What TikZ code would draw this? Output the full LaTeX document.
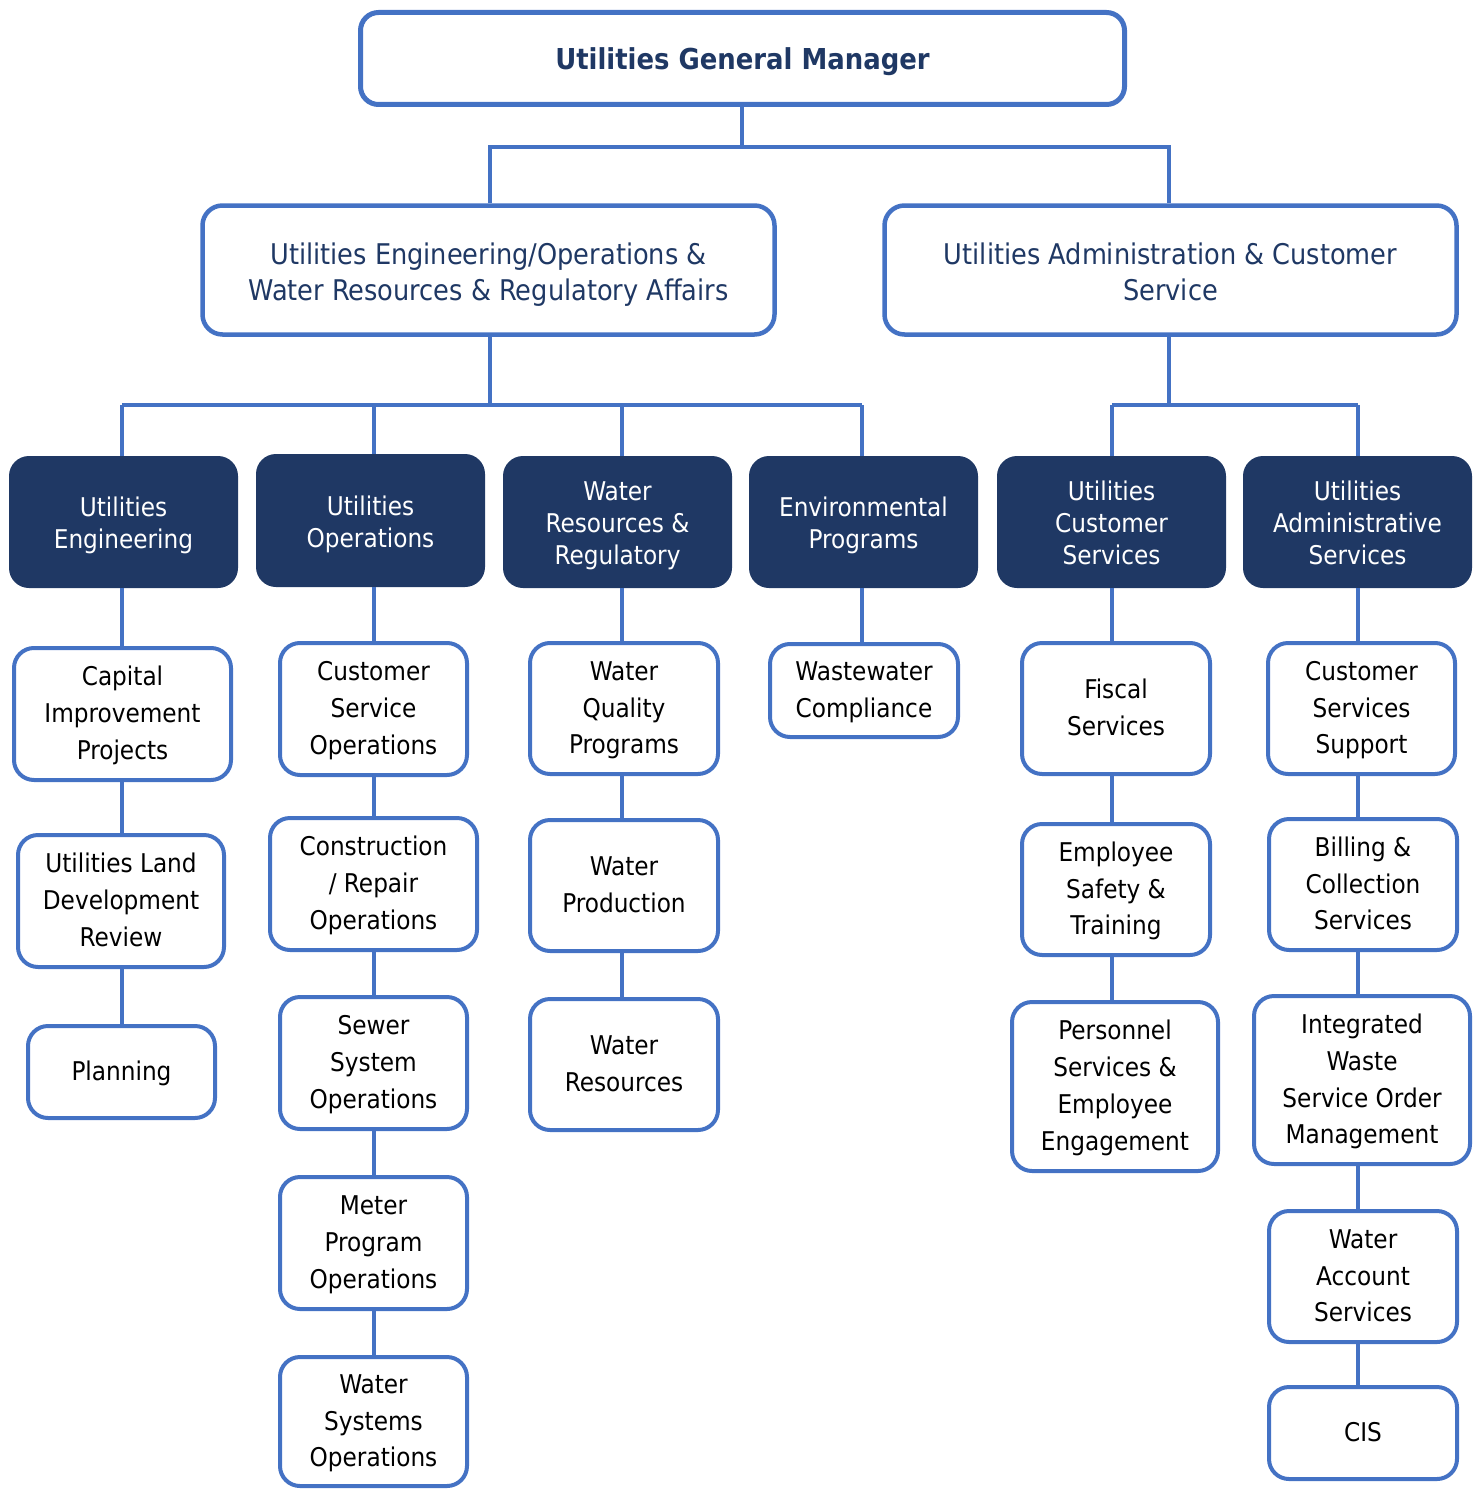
\documentclass[tikz,border=0pt]{standalone}
\usepackage{fontspec}
\setmainfont{DejaVuSansCondensed.ttf}[BoldFont=DejaVuSansCondensed-Bold.ttf]
\definecolor{edgeblue}{HTML}{4472C4}
\definecolor{navy}{HTML}{1F3864}
% \up and \dn: struts on the first and last lines, so every label block
% sits at the same height in its box whatever letters it contains
\newcommand{\up}{}
\newcommand{\dn}{}
\begin{document}
\begin{tikzpicture}[x=1pt,y=-1pt,
  txt/.style={align=center, inner sep=0pt},
  topbox/.style={txt, draw=edgeblue, line width=5pt, rounded corners=18pt, text=navy,
    font={\fontsize{28.8}{36.5}\selectfont\bfseries
          \renewcommand{\up}{\rule{0pt}{29.5pt}}\renewcommand{\dn}{\rule[-6.9pt]{0pt}{0pt}}}},
  midbox/.style={txt, draw=edgeblue, line width=4.5pt, rounded corners=20pt, text=navy,
    font={\fontsize{28.5}{36}\selectfont
          \renewcommand{\up}{\rule{0pt}{31.5pt}}\renewcommand{\dn}{\rule[-6.8pt]{0pt}{0pt}}}},
  darkbox/.style={txt, fill=navy, rounded corners=20pt, text=white,
    font={\fontsize{25.8}{32}\selectfont
          \renewcommand{\up}{\rule{0pt}{27.5pt}}\renewcommand{\dn}{\rule[-6.2pt]{0pt}{0pt}}}},
  wbox/.style={txt, draw=edgeblue, line width=4pt, rounded corners=20pt, text=black,
    font={\fontsize{25.8}{36.8}\selectfont
          \renewcommand{\up}{\rule{0pt}{23.5pt}}\renewcommand{\dn}{\rule[-6.2pt]{0pt}{0pt}}}},
  conn/.style={draw=edgeblue, line width=3.5pt}]
\useasboundingbox (0,0) rectangle (1481,1490);

% head
\node[topbox, minimum width=764, minimum height=92] (gm) at (742.5,58.5) {\up Utilities General Manager\dn};

% divisions
\node[midbox, minimum width=572, minimum height=129] (eng) at (488.5,270) {\up Utilities Engineering/Operations \&\\Water Resources \& Regulatory Affairs\dn};
\node[midbox, minimum width=572, minimum height=129] (adm) at (1170.5,270) {\up Utilities Administration \& Customer\\Service\dn};

% sections
\node[darkbox, minimum width=229, minimum height=132] (d1) at (123.5,522) {\up Utilities\\Engineering\dn};
\node[darkbox, minimum width=229, minimum height=133] (d2) at (370.5,520.5) {\up Utilities\\Operations\dn};
\node[darkbox, minimum width=229, minimum height=132] (d3) at (617.5,522) {\up Water\\Resources \&\\Regulatory\dn};
\node[darkbox, minimum width=229, minimum height=132] (d4) at (863.5,522) {\up Environmental\\Programs\dn};
\node[darkbox, minimum width=229, minimum height=132] (d5) at (1111.5,522) {\up Utilities\\Customer\\Services\dn};
\node[darkbox, minimum width=229, minimum height=132] (d6) at (1357.5,522) {\up Utilities\\Administrative\\Services\dn};

% column 1
\node[wbox, minimum width=217, minimum height=132] (a1) at (122.5,714) {\up Capital\\Improvement\\Projects\dn};
\node[wbox, minimum width=206, minimum height=132] (a2) at (121,901) {\up Utilities Land\\Development\\Review\dn};
\node[wbox, minimum width=187, minimum height=92] (a3) at (121.5,1072) {\up Planning\dn};

% column 2
\node[wbox, minimum width=187, minimum height=132] (b1) at (373.5,709) {\up Customer\\Service\\Operations\dn};
\node[wbox, minimum width=207, minimum height=132] (b2) at (373.5,884) {\up Construction\\/ Repair\\Operations\dn};
\node[wbox, minimum width=187, minimum height=132] (b3) at (373.5,1063) {\up Sewer\\System\\Operations\dn};
\node[wbox, minimum width=187, minimum height=132] (b4) at (373.5,1243) {\up Meter\\Program\\Operations\dn};
\node[wbox, minimum width=187, minimum height=129] (b5) at (373.5,1421.5) {\up Water\\Systems\\Operations\dn};

% column 3
\node[wbox, minimum width=188, minimum height=131] (c1) at (624,708.5) {\up Water\\Quality\\Programs\dn};
\node[wbox, minimum width=188, minimum height=131] (c2) at (624,885.5) {\up Water\\Production\dn};
\node[wbox, minimum width=188, minimum height=131] (c3) at (624,1064.5) {\up Water\\Resources\dn};

% column 4
\node[wbox, minimum width=188, minimum height=93] (e1) at (864,690.5) {\up Wastewater\\Compliance\dn};

% column 5
\node[wbox, minimum width=188, minimum height=131] (f1) at (1116,708.5) {\up Fiscal\\Services\dn};
\node[wbox, minimum width=188, minimum height=131] (f2) at (1116,889.5) {\up Employee\\Safety \&\\Training\dn};
\node[wbox, minimum width=206, minimum height=169] (f3) at (1115,1086.5) {\up Personnel\\Services \&\\Employee\\Engagement\dn};

% column 6
\node[wbox, minimum width=187, minimum height=131] (g1) at (1361.5,708.5) {\up Customer\\Services\\Support\dn};
\node[wbox, minimum width=188, minimum height=131] (g2) at (1363,884.5) {\up Billing \&\\Collection\\Services\dn};
\node[wbox, minimum width=216, minimum height=168] (g3) at (1362,1080) {\up Integrated\\Waste\\Service Order\\Management\dn};
\node[wbox, minimum width=188, minimum height=131] (g4) at (1363,1276.5) {\up Water\\Account\\Services\dn};
\node[wbox, minimum width=188, minimum height=92] (g5) at (1363,1433) {\up CIS\dn};

% bus levels and column axes
\coordinate (busT) at (742,147);
\coordinate (busL) at (490,405);
\coordinate (busR) at (1169,405);
\coordinate (k1) at (122,0);
\coordinate (k2) at (374,0);
\coordinate (k3) at (622,0);
\coordinate (k4) at (862,0);
\coordinate (k5) at (1112,0);
\coordinate (k6) at (1358,0);

% head to divisions
\draw[conn] (gm.south -| busT) -- (busT);
\draw[conn] (eng.north -| busL) -- (busL |- busT) -- (busR |- busT) -- (adm.north -| busR);

% divisions to sections
\draw[conn] (eng.south -| busL) -- (busL);
\draw[conn] (k1 |- busL) -- (k4 |- busL);
\foreach \k/\d in {k1/d1,k2/d2,k3/d3,k4/d4}
  \draw[conn] (\k |- busL) -- (\d.north -| \k);
\draw[conn] (adm.south -| busR) -- (busR);
\draw[conn] (k5 |- busR) -- (k6 |- busR);
\foreach \k/\d in {k5/d5,k6/d6}
  \draw[conn] (\k |- busR) -- (\d.north -| \k);

% sections to units
\foreach \k/\p/\q in {k1/d1/a1,k1/a1/a2,k1/a2/a3,
                      k2/d2/b1,k2/b1/b2,k2/b2/b3,k2/b3/b4,k2/b4/b5,
                      k3/d3/c1,k3/c1/c2,k3/c2/c3,
                      k4/d4/e1,
                      k5/d5/f1,k5/f1/f2,k5/f2/f3,
                      k6/d6/g1,k6/g1/g2,k6/g2/g3,k6/g3/g4,k6/g4/g5}
  \draw[conn] (\p.south -| \k) -- (\q.north -| \k);
\end{tikzpicture}
\end{document}
